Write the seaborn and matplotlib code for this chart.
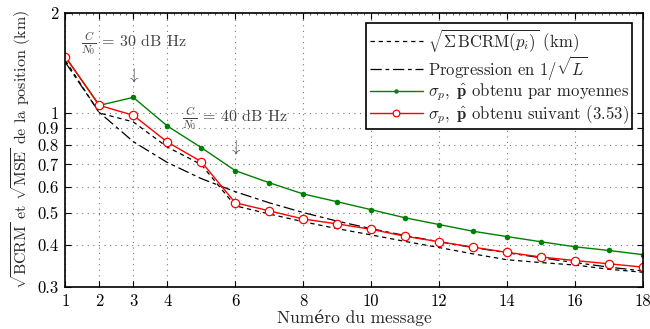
import numpy as np
import pandas as pd
import matplotlib
matplotlib.use("Agg")
import matplotlib.pyplot as plt
import matplotlib.ticker as mticker
import seaborn as sns

# ---- data ----
messages = list(range(1, 19))
bcrm = [1.44, 1.00, 0.94, 0.79, 0.70, 0.526, 0.497, 0.471, 0.449, 0.430,
        0.411, 0.394, 0.377, 0.362, 0.355, 0.349, 0.339, 0.332]
progression = [1.42, 1.004, 0.820, 0.710, 0.635, 0.580, 0.537, 0.502, 0.473, 0.449,
               0.428, 0.410, 0.394, 0.380, 0.367, 0.355, 0.344, 0.335]
moyennes = [1.475, 1.054, 1.114, 0.914, 0.787, 0.671, 0.617, 0.571, 0.541, 0.512,
            0.484, 0.462, 0.441, 0.425, 0.410, 0.396, 0.386, 0.375]
suivant = [1.475, 1.054, 0.984, 0.818, 0.714, 0.537, 0.508, 0.480, 0.464, 0.447,
           0.426, 0.410, 0.395, 0.381, 0.369, 0.360, 0.352, 0.344]

xticks = [1, 2, 3, 4, 6, 8, 10, 12, 14, 16, 18]
yticks = [0.3, 0.4, 0.5, 0.6, 0.7, 0.8, 0.9, 1, 2]
yticklabels = ["0.3", "0.4", "0.5", "0.6", "0.7", "0.8", "0.9", "1", "2"]

lab_bcrm = r"$\sqrt{\Sigma\,\mathrm{BCRM}(p_i)}$ (km)"
lab_prog = r"Progression en $1/\sqrt{L}$"
lab_moy = r"$\sigma_p,\ \hat{\mathbf{p}}$ obtenu par moyennes"
lab_sui = r"$\sigma_p,\ \hat{\mathbf{p}}$ obtenu suivant (3.53)"

df = pd.DataFrame({"msg": messages, "bcrm": bcrm, "prog": progression,
                   "moy": moyennes, "sui": suivant})

sns.set_theme(style="ticks")
plt.rcParams["font.family"] = ["cmr10", "DejaVu Serif"]
plt.rcParams["mathtext.fontset"] = "cm"
plt.rcParams["axes.formatter.use_mathtext"] = True
plt.rcParams["font.size"] = 11

fig = plt.figure(figsize=(6.5, 3.29), dpi=100)
ax = fig.add_axes([0.1005, 0.128, 0.8885, 0.833])

sns.lineplot(data=df, x="msg", y="bcrm", ax=ax, color="black", lw=0.9,
             label=lab_bcrm, linestyle=(0, (3.5, 3)))
sns.lineplot(data=df, x="msg", y="prog", ax=ax, color="black", lw=0.9,
             label=lab_prog, linestyle=(0, (9, 3, 3, 3)))
sns.lineplot(data=df, x="msg", y="moy", ax=ax, color="#008000", lw=1.0,
             marker="o", markersize=4, markeredgewidth=0, label=lab_moy)
sns.lineplot(data=df, x="msg", y="sui", ax=ax, color="#ff0000", lw=1.0,
             marker="o", markersize=6, markerfacecolor="white",
             markeredgecolor="#ff0000", markeredgewidth=0.9, label=lab_sui)

ax.set_yscale("log")
ax.set_xlim(1, 18)
ax.set_ylim(0.3, 2)
ax.xaxis.set_major_locator(mticker.FixedLocator(xticks))
ax.xaxis.set_major_formatter(mticker.FixedFormatter([str(t) for t in xticks]))
ax.xaxis.set_minor_locator(mticker.MultipleLocator(0.2))
ax.yaxis.set_major_locator(mticker.FixedLocator(yticks))
ax.yaxis.set_major_formatter(mticker.FixedFormatter(yticklabels))
ax.yaxis.set_minor_locator(mticker.NullLocator())
ax.yaxis.set_minor_formatter(mticker.NullFormatter())

ax.tick_params(axis="both", which="major", direction="in", length=4, width=0.8,
               top=True, right=True, labelsize=12, colors="black", pad=5)
ax.tick_params(axis="x", which="minor", direction="in", length=1.5, width=0.5,
               top=True, bottom=False)
for s in ax.spines.values():
    s.set_color("black")
    s.set_linewidth(1.2)

ax.grid(True, which="major", color="#777777", linestyle=(0, (1, 4)), linewidth=0.8)

ax.set_xlabel("Numéro du message", fontsize=12.5, labelpad=0)
ax.set_ylabel(r"$\sqrt{\mathrm{BCRM}}$ et $\sqrt{\mathrm{MSE}}$ de la position (km)",
              fontsize=11.5, labelpad=3)

ann_color = "#444444"
ax.text(3, 1.62, r"$\frac{C}{N_0}\,=\,30$ dB Hz", ha="center", va="center",
        fontsize=11.5, color=ann_color)
ax.text(3, 1.30, r"$\downarrow$", ha="center", va="center", fontsize=12, color=ann_color)
ax.text(6, 0.965, r"$\frac{C}{N_0}\,=\,40$ dB Hz", ha="center", va="center",
        fontsize=11.5, color=ann_color)
ax.text(6, 0.79, r"$\downarrow$", ha="center", va="center", fontsize=12, color=ann_color)

leg = ax.legend(loc="upper right", bbox_to_anchor=(0.982, 0.962), fontsize=12,
                frameon=True, fancybox=False, framealpha=1, edgecolor="black",
                borderpad=0.2, labelspacing=0.0, handlelength=3.2,
                handletextpad=0.3, borderaxespad=0, markerscale=0.8)
leg.get_frame().set_linewidth(1.2)

fig.savefig("out.png", dpi=100)
